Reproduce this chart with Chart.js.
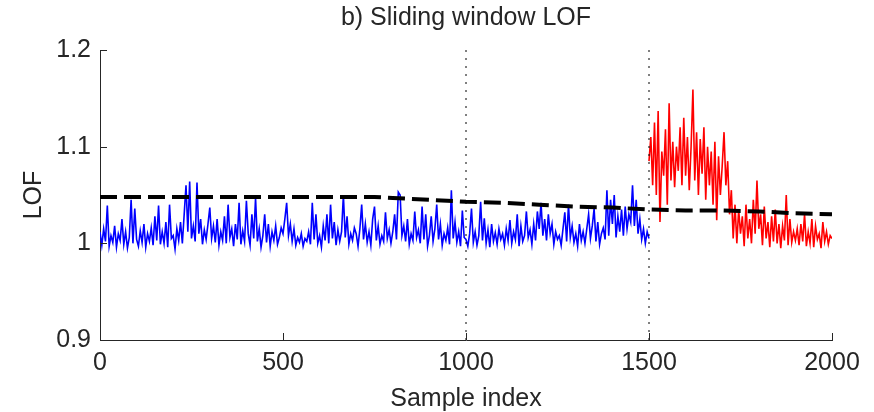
<!DOCTYPE html>
<html lang="en">
<head>
    <meta charset="UTF-8">
    <title>Sliding window LOF</title>
    <script src="https://cdn.jsdelivr.net/npm/chart.js"></script>
    <style>
        body { margin: 0; background: #fff; }
        #wrap { width: 874px; height: 412px; }
    </style>
</head>
<body>
    <div id="wrap"><canvas id="myChart" width="874" height="412"></canvas></div>

    <script>
        // LOF values, one every 5 samples
        const sampleStep = 5;
        const blueStart = 0;
        const blueVals = [
            1.012, 0.998, 1.015, 1.002, 1.039, 0.997, 1.008, 1.001, 1.018, 0.996, 1.010, 1.003, 1.025, 0.999, 1.012, 0.995, 1.006, 1.045, 1.000, 1.036,
            1.004, 0.997, 1.013, 1.001, 1.020, 0.996, 1.010, 1.002, 1.016, 0.998, 1.028, 1.003, 1.039, 0.999, 1.012, 1.000, 1.022, 0.996, 1.040, 1.005,
            1.008, 0.994, 1.015, 1.003, 1.022, 1.000, 1.030, 1.060, 1.012, 1.064, 1.005, 1.018, 1.002, 1.063, 1.010, 1.025, 0.999, 1.014, 1.004, 1.020,
            1.037, 1.005, 1.018, 1.001, 1.025, 0.998, 1.012, 1.003, 1.028, 1.000, 1.040, 1.006, 1.015, 0.997, 1.020, 1.004, 1.042, 0.999, 1.013, 1.002,
            1.044, 1.010, 0.998, 1.030, 1.005, 1.047, 1.002, 1.015, 0.996, 1.008, 1.030, 1.001, 1.020, 0.997, 1.012, 1.003, 1.018, 0.999, 1.006, 1.016,
            1.010, 1.025, 1.042, 1.008, 1.020, 1.002, 1.015, 0.998, 1.006, 1.001, 1.010, 0.997, 1.005, 1.002, 1.012, 0.999, 1.042, 1.004, 1.030, 1.000,
            1.008, 0.996, 1.018, 1.003, 1.030, 1.000, 1.040, 1.005, 1.022, 0.998, 1.014, 1.002, 1.012, 1.050, 1.006, 1.028, 0.999, 1.010, 1.003, 1.016,
            1.010, 0.997, 1.015, 1.040, 1.004, 1.020, 1.001, 1.012, 0.998, 1.025, 1.038, 1.003, 1.018, 0.999, 1.008, 1.002, 1.032, 1.005, 1.014, 1.000,
            1.012, 1.030, 1.004, 1.053, 1.050, 1.008, 1.018, 1.002, 1.025, 0.999, 1.010, 1.003, 1.033, 1.006, 1.014, 1.000, 1.038, 1.004, 1.030, 0.997,
            1.008, 1.028, 1.002, 1.015, 1.040, 1.004, 1.020, 0.998, 1.010, 1.003, 1.016, 0.999, 1.055, 1.005, 1.022, 1.001, 1.012, 0.997, 1.034, 1.006,
            1.004, 0.997, 1.010, 1.036, 1.001, 1.012, 0.998, 1.008, 1.043, 1.003, 1.026, 1.000, 1.014, 0.996, 1.020, 1.002, 1.011, 0.999, 1.015, 1.004,
            1.010, 0.998, 1.015, 1.003, 1.024, 1.000, 1.012, 1.004, 1.030, 0.997, 1.018, 1.002, 1.008, 1.033, 1.006, 1.014, 0.999, 1.020, 1.003, 1.033,
            1.015, 1.042, 1.008, 1.025, 1.003, 1.030, 1.010, 1.020, 0.999, 1.012, 1.004, 1.008, 0.998, 1.015, 1.032, 1.002, 1.040, 1.006, 1.018, 1.001,
            1.010, 0.997, 1.020, 1.003, 1.012, 1.000, 1.015, 1.030, 1.005, 1.018, 1.036, 1.002, 1.022, 0.999, 1.010, 1.016, 1.004, 1.055, 1.008, 1.045,
            1.020, 1.050, 1.006, 1.028, 1.012, 1.035, 1.008, 1.038, 1.015, 1.030, 1.022, 1.060, 1.018, 1.045, 1.010, 1.025, 1.004, 1.015, 1.000, 1.012,
            1.005
        ];
        const redStart = 1500;
        const redVals = [
            1.085, 1.110, 1.060, 1.125, 1.050, 1.137, 1.022, 1.095, 1.070, 1.118, 1.040, 1.145, 1.065, 1.105, 1.058, 1.100, 1.075, 1.120, 1.060, 1.130,
            1.070, 1.110, 1.055, 1.100, 1.159, 1.065, 1.115, 1.050, 1.108, 1.072, 1.120, 1.045, 1.100, 1.060, 1.095, 1.040, 1.105, 1.024, 1.090, 1.050,
            1.080, 1.115, 1.060, 1.085, 1.030, 1.055, 1.005, 1.040, 1.000, 1.035, 1.010, 1.028, 0.997, 1.040, 1.005, 1.025, 1.000, 1.045, 1.010, 1.065,
            1.015, 1.030, 0.998, 1.038, 1.005, 1.022, 0.996, 1.028, 1.002, 1.035, 1.000, 1.020, 0.995, 1.018, 1.003, 1.050, 0.998, 1.025, 1.001, 1.012,
            1.003, 1.015, 0.998, 1.020, 1.002, 1.030, 0.997, 1.012, 1.000, 1.025, 0.996, 1.018, 1.004, 1.010, 0.995, 1.022, 1.002, 1.012, 0.999, 1.008,
            1.005
        ];

        // threshold (black dashed)
        const threshX = [0, 750, 800, 900, 1000, 1100, 1200, 1300, 1400, 1500, 1600, 1700, 1800, 1900, 2000];
        const threshY = [1.048, 1.048, 1.047, 1.045, 1.043, 1.042, 1.040, 1.038, 1.037, 1.035, 1.034, 1.034, 1.033, 1.031, 1.030];

        // change points (dotted verticals)
        const markers = [1000, 1500];

        const xTicks = [0, 500, 1000, 1500, 2000];
        const yTicks = [0.9, 1.0, 1.1, 1.2];

        const textColor = '#262626';
        const fontFam = '"Liberation Sans", Arial, sans-serif';

        function toPoints(start, vals) {
            return vals.map((v, i) => ({ x: start + i * sampleStep, y: v }));
        }

        // MATLAB style ticks pointing into the plot
        const innerTicks = {
            id: 'innerTicks',
            afterDraw(chart) {
                const ctx = chart.ctx;
                const xs = chart.scales.x, ys = chart.scales.y;
                const len = 7;
                ctx.save();
                ctx.strokeStyle = textColor;
                ctx.lineWidth = 1;
                ctx.beginPath();
                xTicks.forEach(t => {
                    const px = Math.round(xs.getPixelForValue(t)) + 0.5;
                    ctx.moveTo(px, ys.bottom);
                    ctx.lineTo(px, ys.bottom - len);
                });
                yTicks.forEach(t => {
                    const py = Math.round(ys.getPixelForValue(t)) + 0.5;
                    ctx.moveTo(xs.left, py);
                    ctx.lineTo(xs.left + len, py);
                });
                ctx.stroke();
                ctx.restore();
            }
        };

        const datasets = [
            {
                data: threshX.map((x, i) => ({ x: x, y: threshY[i] })),
                borderColor: '#000',
                borderWidth: 4,
                borderDash: [17, 7],
                pointRadius: 0
            }
        ];
        markers.forEach(m => {
            datasets.push({
                data: [{ x: m, y: 0.9 }, { x: m, y: 1.2 }],
                borderColor: '#000',
                borderWidth: 1,
                borderDash: [2, 6],
                pointRadius: 0
            });
        });
        datasets.push({
            data: toPoints(blueStart, blueVals),
            borderColor: '#0000ff',
            borderWidth: 1.6,
            pointRadius: 0
        });
        datasets.push({
            data: toPoints(redStart, redVals),
            borderColor: '#ff0000',
            borderWidth: 1.6,
            pointRadius: 0
        });

        const ctx = document.getElementById('myChart').getContext('2d');
        const myChart = new Chart(ctx, {
            type: 'line',
            data: { datasets: datasets },
            options: {
                responsive: false,
                animation: false,
                layout: { padding: { top: 0, right: 42, bottom: 0, left: 0 } },
                elements: { line: { tension: 0 } },
                plugins: {
                    legend: { display: false },
                    tooltip: { enabled: false },
                    title: {
                        display: true,
                        fullSize: false,
                        text: 'b) Sliding window LOF',
                        color: textColor,
                        font: { family: fontFam, size: 25, weight: 'normal', lineHeight: 1 },
                        padding: { top: 6, bottom: 19 }
                    }
                },
                scales: {
                    x: {
                        type: 'linear',
                        min: 0,
                        max: 2000,
                        grid: { display: false, drawTicks: false },
                        border: { display: true, color: textColor, width: 1 },
                        ticks: {
                            stepSize: 500,
                            color: textColor,
                            padding: 11,
                            maxRotation: 0,
                            font: { family: fontFam, size: 25, lineHeight: 1 },
                            callback: v => String(v)
                        },
                        title: {
                            display: true,
                            text: 'Sample index',
                            color: textColor,
                            padding: 0,
                            font: { family: fontFam, size: 25, lineHeight: 1 }
                        },
                        afterFit: s => { s.height = 72; }
                    },
                    y: {
                        min: 0.9,
                        max: 1.2,
                        grid: { display: false, drawTicks: false },
                        border: { display: true, color: textColor, width: 1 },
                        ticks: {
                            stepSize: 0.1,
                            color: textColor,
                            padding: 9,
                            font: { family: fontFam, size: 25, lineHeight: 1 },
                            callback: v => String(+v.toFixed(1))
                        },
                        title: {
                            display: true,
                            text: 'LOF',
                            color: textColor,
                            padding: { top: 22, bottom: 0 },
                            font: { family: fontFam, size: 25, lineHeight: 1 }
                        },
                        afterFit: s => { s.width = 100; }
                    }
                }
            },
            plugins: [innerTicks]
        });
    </script>
</body>
</html>
